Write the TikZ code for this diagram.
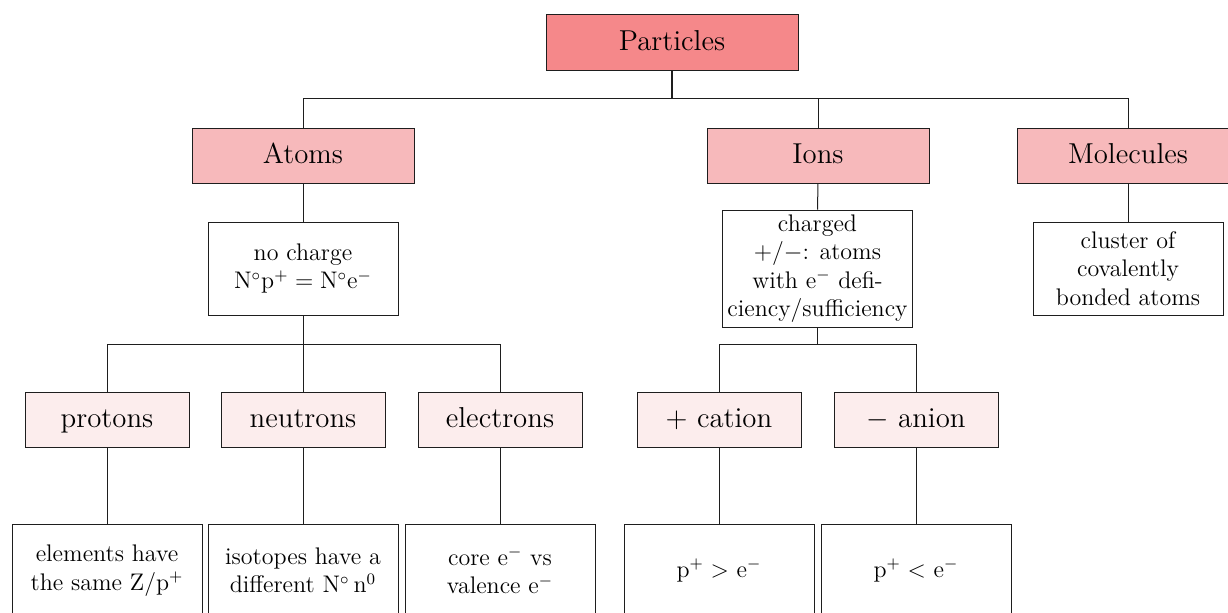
\documentclass[tikz,border=0pt]{standalone}
\usepackage{fontspec}
\definecolor{cTop}{RGB}{245,136,138}
\definecolor{cMid}{RGB}{247,185,187}
\definecolor{cLow}{RGB}{252,237,237}
\definecolor{cLine}{RGB}{30,30,30}
\begin{document}
\begin{tikzpicture}[x=0.5pt,y=-0.5pt,
  box/.style={draw=cLine,line width=0.5pt,inner sep=0pt,align=center,anchor=center},
  big/.style={box,font=\fontsize{14.4}{17}\selectfont,minimum height=27.5pt,text height=11.5pt,text depth=3.5pt},
  small/.style={box,font=\fontsize{12}{14.2}\selectfont,minimum height=46.5pt,minimum width=95pt},
  conn/.style={draw=cLine,line width=0.5pt}]
\useasboundingbox (0,0) rectangle (1228,612);
% level 0
\node[big,fill=cTop,minimum width=126pt,minimum height=28pt] (P) at (672,42) {Particles};
% level 1
\node[big,fill=cMid,minimum width=111pt] (A) at (303,155.5) {Atoms};
\node[big,fill=cMid,minimum width=111pt] (I) at (818,155.5) {Ions};
\node[big,fill=cMid,minimum width=111pt] (M) at (1128,155.5) {Molecules};
% level 2
\node[small] (NC) at (303,268.5) {no charge\\$\mathrm{N^\circ p^+ = N^\circ e^-}$};
\node[small,minimum height=58.5pt] (CH) at (817.5,268.5) {charged\\$+/-$: atoms\\with e$^-$ defi-\\ciency/sufficiency};
\node[small] (CL) at (1128,268.5) {cluster of\\covalently\\bonded atoms};
% level 3
\node[big,fill=cLow,minimum width=82pt] (PR) at (107,419.5) {protons};
\node[big,fill=cLow,minimum width=82pt] (NE) at (303,419.5) {neutrons};
\node[big,fill=cLow,minimum width=82pt] (EL) at (500,419.5) {electrons};
\node[big,fill=cLow,minimum width=82pt] (CA) at (719,419.5) {$+$ cation};
\node[big,fill=cLow,minimum width=82pt] (AN) at (916,419.5) {$-$ anion};
% level 4
\node[small] (B1) at (107,570.5) {elements have\\the same Z/p$^+$};
\node[small] (B2) at (303,570.5) {isotopes have a\\different $\mathrm{N^\circ}$\,n$^0$};
\node[small] (B3) at (500,570.5) {core e$^-$ vs\\valence e$^-$};
\node[small] (B4) at (719,570.5) {p$^+ >$ e$^-$};
\node[small] (B5) at (916,570.5) {p$^+ <$ e$^-$};
% connectors
\coordinate (j1) at (672,98);
\coordinate (j2) at (303,344);
\coordinate (j3) at (817.5,344);
\draw[conn,line width=0.9pt] (P.south) -- (j1);
\draw[conn] (j1) -| (A.north);
\draw[conn] (j1) -| (I.north);
\draw[conn] (j1) -| (M.north);
\draw[conn] (A.south) -- (NC.north);
\draw[conn] (I.south) -- (CH.north);
\draw[conn] (M.south) -- (CL.north);
\draw[conn] (NC.south) -- (j2);
\draw[conn] (j2) -| (PR.north);
\draw[conn] (j2) -| (NE.north);
\draw[conn] (j2) -| (EL.north);
\draw[conn] (CH.south) -- (j3);
\draw[conn] (j3) -| (CA.north);
\draw[conn] (j3) -| (AN.north);
\draw[conn] (PR.south) -- (B1.north);
\draw[conn] (NE.south) -- (B2.north);
\draw[conn] (EL.south) -- (B3.north);
\draw[conn] (CA.south) -- (B4.north);
\draw[conn] (AN.south) -- (B5.north);
\end{tikzpicture}
\end{document}
